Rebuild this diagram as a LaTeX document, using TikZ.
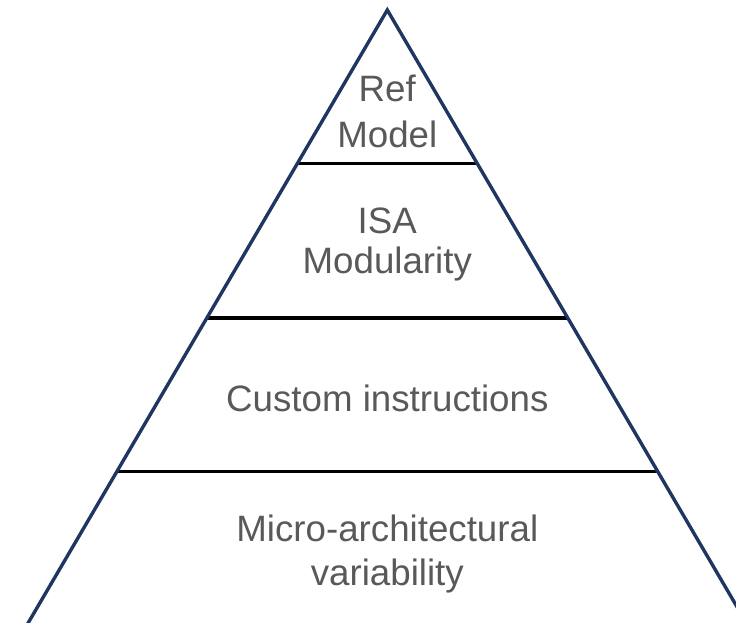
\documentclass[tikz,border=0pt]{standalone}
\usepackage{fontspec}
\setmainfont{Liberation Sans}
\definecolor{edgenavy}{HTML}{1F3660}
\definecolor{labelgray}{HTML}{595959}
\begin{document}
\begin{tikzpicture}[x=1pt,y=-1pt,
  side/.style={draw=edgenavy,line width=3.4pt,line join=miter},
  tier/.style={draw=black,line width=3.4pt},
  lbl/.style={text=labelgray,inner sep=0pt,align=center,anchor=base},
]
\useasboundingbox (0,0) rectangle (736,623);
\begin{scope}
\clip (0,0) rectangle (736,623);
% tier separators, x at the pyramid's sides
\draw[tier] (297.5,163.3) -- (477.1,163.3);
\draw[tier] (206.8,318) -- (567.8,318);
\draw[tier] (116.8,471.7) -- (657.8,471.7);
% pyramid sides, running past the lower edge
\coordinate (apex) at (387.3,10);
\coordinate (bl) at (-17,700);
\coordinate (br) at (791.6,700);
\draw[side] (bl) -- (apex) -- (br);
\end{scope}
% tier labels (anchored at the baseline of the last line)
\node[lbl,font=\fontsize{36.7}{45.6}\selectfont] (ref) at (387.3,147.3) {Ref\\Model};
\node[lbl,font=\fontsize{36.7}{40.3}\selectfont] (isa) at (387.3,273.6) {ISA\\Modularity};
\node[lbl,font=\fontsize{36.7}{44}\selectfont] (custom) at (387.3,411.7) {Custom instructions};
\node[lbl,font=\fontsize{36.7}{43.5}\selectfont] (micro) at (387.3,585.2) {Micro-architectural\\variability};
\end{tikzpicture}
\end{document}
